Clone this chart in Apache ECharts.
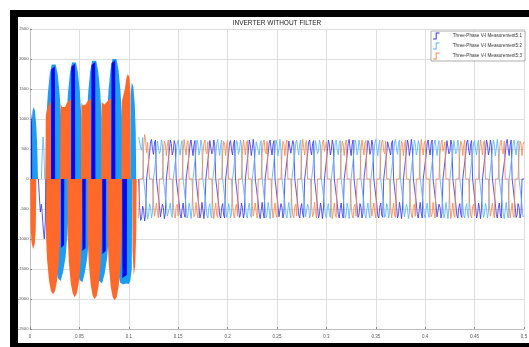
<!DOCTYPE html>
<html>
<head>
<meta charset="utf-8">
<script src="https://cdn.jsdelivr.net/npm/echarts@6/dist/echarts.min.js"></script>
<style>
  body { margin: 0; background: #fff; }
  #frame { position: absolute; left: 10px; top: 10px; width: 519px; height: 337px; background: #000; }
  #chart { position: absolute; left: 18px; top: 17px; width: 511px; height: 326px; background: #fff; }
</style>
</head>
<body>
<div id="frame"></div>
<div id="chart"></div>
<script>
// legend names
const names = ['Three-Phase V-I Measurement5:1', 'Three-Phase V-I Measurement5:2', 'Three-Phase V-I Measurement5:3'];

// start-up transient, read as envelopes [time s, volts]
const lightUpper = [
  [0.0012, 0], [0.0016, 900], [0.0026, 1140], [0.0038, 1200], [0.005, 1130], [0.0062, 920], [0.0072, 600], [0.0081, 0],
  [0.016, 0], [0.0165, 1010], [0.018, 1410], [0.02, 1750], [0.022, 1910], [0.024, 1940], [0.026, 1910], [0.028, 1750], [0.030, 1410], [0.0315, 1010], [0.032, 0],
  [0.0365, 0], [0.037, 1030], [0.0385, 1440], [0.0405, 1770], [0.0425, 1940], [0.0445, 1970], [0.0465, 1940], [0.0485, 1770], [0.0505, 1440], [0.052, 1030], [0.0525, 0],
  [0.057, 0], [0.0575, 1040], [0.059, 1460], [0.061, 1800], [0.063, 1970], [0.065, 2000], [0.067, 1970], [0.069, 1800], [0.071, 1460], [0.0725, 1040], [0.073, 0],
  [0.0775, 0], [0.078, 1060], [0.0795, 1480], [0.0815, 1830], [0.0835, 2000], [0.0855, 2030], [0.0875, 2000], [0.0895, 1830], [0.0915, 1480], [0.093, 1060], [0.0935, 0],
  [0.1015, 0], [0.1018, 1400], [0.103, 1600], [0.1045, 1550], [0.106, 1250], [0.107, 800], [0.1075, 0]
];
const orangeUpper = [
  [0.0155, 0], [0.016, 1050], [0.0175, 1180], [0.0195, 1260], [0.0211, 1300], [0.0213, 0],
  [0.0305, 0], [0.031, 1250], [0.0325, 1200], [0.034, 1180], [0.0355, 1200], [0.037, 1260], [0.039, 1300], [0.0414, 1320], [0.0416, 0],
  [0.0515, 0], [0.052, 1270], [0.0535, 1230], [0.055, 1220], [0.0565, 1240], [0.058, 1290], [0.060, 1320], [0.0618, 1340], [0.062, 0],
  [0.072, 0], [0.0725, 1280], [0.074, 1250], [0.0755, 1240], [0.077, 1260], [0.079, 1310], [0.081, 1330], [0.0821, 1350], [0.0823, 0],
  [0.0925, 0], [0.093, 1300], [0.0945, 1320], [0.096, 1500], [0.0975, 1680], [0.099, 1750], [0.1005, 1700], [0.1015, 1500], [0.1018, 0]
];
const darkUpper = [
  [0.0011, 0], [0.0012, 950], [0.002, 1100], [0.0022, 0],
  [0.0213, 0], [0.0215, 1830], [0.0252, 1880], [0.0254, 0],
  [0.0416, 0], [0.0418, 1870], [0.0455, 1920], [0.0457, 0],
  [0.062, 0], [0.0622, 1900], [0.066, 1950], [0.0662, 0],
  [0.0823, 0], [0.0825, 1930], [0.0862, 1980], [0.0864, 0]
];
const lightLower = [
  [0.025, 0], [0.0255, -1300], [0.028, -1650], [0.031, -1700], [0.0335, -1550], [0.036, -1300], [0.0375, -1000], [0.0385, -700], [0.039, 0],
  [0.0465, 0], [0.047, -1320], [0.050, -1680], [0.053, -1720], [0.0555, -1560], [0.058, -1300], [0.0595, -1000], [0.0605, 0],
  [0.067, 0], [0.0675, -1340], [0.070, -1700], [0.073, -1740], [0.0755, -1580], [0.078, -1320], [0.0795, -1000], [0.0805, 0],
  [0.0875, 0], [0.088, -1400], [0.091, -1720], [0.094, -1760], [0.097, -1740], [0.100, -1750], [0.1015, -1700], [0.103, -1500], [0.1035, 0]
];
const orangeLower = [
  [0.0003, 0], [0.0006, -800], [0.0015, -1050], [0.0032, -1170], [0.0048, -1080], [0.0058, -850], [0.0064, 0],
  [0.0158, 0], [0.0161, -900], [0.0173, -1350], [0.0193, -1700], [0.0213, -1870], [0.0233, -1920], [0.0253, -1870], [0.0273, -1700], [0.0293, -1350], [0.0305, -900], [0.0308, 0],
  [0.0378, 0], [0.0381, -920], [0.0393, -1380], [0.0413, -1740], [0.0433, -1910], [0.0453, -1970], [0.0473, -1910], [0.0493, -1740], [0.0513, -1380], [0.0525, -920], [0.0528, 0],
  [0.058, 0], [0.0583, -940], [0.0595, -1400], [0.0615, -1770], [0.0635, -1950], [0.0655, -2000], [0.0675, -1950], [0.0695, -1770], [0.0715, -1400], [0.0727, -940], [0.073, 0],
  [0.0782, 0], [0.0785, -950], [0.0797, -1420], [0.0817, -1790], [0.0837, -1970], [0.0857, -2020], [0.0877, -1970], [0.0897, -1790], [0.0917, -1420], [0.0929, -950], [0.0932, 0],
  [0.1035, 0], [0.1038, -1200], [0.105, -1600], [0.1065, -1450], [0.1075, -900], [0.108, 0]
];
const darkLower = [
  [0.0313, 0], [0.0315, -1150], [0.0345, -1100], [0.0347, 0],
  [0.0529, 0], [0.0531, -1200], [0.0562, -1150], [0.0564, 0],
  [0.0731, 0], [0.0733, -1250], [0.0767, -1200], [0.0769, 0],
  [0.0933, 0], [0.0935, -1650], [0.098, -1600], [0.0982, 0]
];
const earlyDark = [[0.0085, 0], [0.0095, -300], [0.0105, -550], [0.0115, -420], [0.0125, -600], [0.0135, -850], [0.0145, -1000], [0.0155, -700], [0.016, 0]];
const earlyLight = [[0.0115, 0], [0.0125, 480], [0.0133, 700], [0.0141, 460], [0.0149, 0]];

// steady state, one sample per ms from 110 ms to 500 ms
const steadyStartMs = 110;
const phase1 = [
  0, -480, -690, -650, -450, -520, -700, -600, 0, 0,
  0, 430, 620, 660, 490, 410, 600, 650, 0, 0, 0, -440, -630, -610, -420, -480, -660, -570, 0, 0,
  0, 460, 650, 590, 400, 470, 640, 570, 0, 0, 0, -410, -590, -650, -500, -400, -580, -640, 0, 0,
  0, 400, 580, 650, 510, 390, 570, 640, 0, 0, 0, -460, -650, -580, -390, -510, -660, -490, 0, 0,
  0, 450, 640, 610, 420, 460, 650, 560, 0, 0, 0, -420, -610, -650, -470, -410, -600, -650, 0, 0,
  0, 420, 600, 640, 480, 400, 590, 650, 0, 0, 0, -450, -640, -590, -400, -480, -650, -560, 0, 0,
  0, 470, 650, 570, 390, 510, 660, 490, 0, 0, 0, -400, -580, -660, -520, -390, -560, -650, 0, 0,
  0, 410, 590, 650, 500, 400, 580, 640, 0, 0, 0, -440, -630, -600, -410, -470, -650, -570, 0, 0,
  0, 440, 630, 620, 430, 450, 640, 580, 0, 0, 0, -420, -600, -650, -480, -410, -590, -640, 0, 0,
  0, 420, 610, 650, 480, 400, 590, 640, 0, 0, 0, -460, -650, -580, -400, -500, -660, -500, 0, 0,
  0, 460, 650, 580, 400, 480, 650, 560, 0, 0, 0, -410, -590, -650, -490, -400, -580, -650, 0, 0,
  0, 400, 590, 660, 510, 390, 570, 650, 0, 0, 0, -450, -640, -600, -410, -470, -650, -570, 0, 0,
  0, 450, 640, 600, 410, 470, 650, 560, 0, 0, 0, -420, -610, -650, -470, -400, -600, -640, 0, 0,
  0, 430, 620, 650, 470, 400, 600, 640, 0, 0, 0, -460, -650, -580, -390, -500, -660, -500, 0, 0,
  0, 470, 650, 570, 390, 500, 660, 500, 0, 0, 0, -400, -590, -650, -510, -390, -570, -650, 0, 0,
  0, 410, 600, 650, 490, 400, 590, 650, 0, 0, 0, -440, -630, -610, -420, -470, -650, -570, 0, 0,
  0, 450, 640, 610, 420, 460, 650, 570, 0, 0, 0, -420, -600, -650, -480, -410, -590, -640, 0, 0,
  0, 420, 610, 650, 480, 400, 590, 640, 0, 0, 0, -460, -650, -590, -400, -490, -660, -510, 0, 0,
  0, 460, 650, 580, 400, 480, 650, 560, 0, 0, 0, -410, -590, -650, -490, -400, -580, -650, 0, 0,
  0, 400, 590, 660, 500, 390, 570, 650, 0, 0, 0, -450, -640, -600, -410, -470, -650, -570, 0, 0,
  0
];
const phase2 = [
  700, 730, 520, 480, 690, 0, 0, 0, -460, -670,
  -600, -410, -480, -650, -560, 0, 0, 0, 440, 630, 610, 420, 470, 650, 570, 0, 0, 0, -430, -620,
  -650, -490, -400, -590, -640, 0, 0, 0, 410, 600, 650, 490, 400, 580, 640, 0, 0, 0, -460, -650,
  -580, -400, -500, -660, -500, 0, 0, 0, 460, 650, 580, 400, 480, 650, 560, 0, 0, 0, -410, -600,
  -650, -480, -410, -600, -650, 0, 0, 0, 400, 590, 660, 510, 390, 570, 650, 0, 0, 0, -450, -640,
  -590, -410, -480, -650, -570, 0, 0, 0, 450, 640, 600, 410, 470, 650, 560, 0, 0, 0, -420, -610,
  -650, -470, -400, -600, -640, 0, 0, 0, 430, 620, 650, 470, 400, 600, 640, 0, 0, 0, -460, -650,
  -580, -390, -500, -660, -500, 0, 0, 0, 470, 650, 570, 390, 500, 660, 500, 0, 0, 0, -400, -590,
  -650, -510, -390, -570, -650, 0, 0, 0, 410, 600, 650, 490, 400, 590, 650, 0, 0, 0, -440, -630,
  -610, -420, -470, -650, -570, 0, 0, 0, 450, 640, 610, 420, 460, 650, 570, 0, 0, 0, -420, -600,
  -650, -480, -410, -590, -640, 0, 0, 0, 420, 610, 650, 480, 400, 590, 640, 0, 0, 0, -460, -650,
  -590, -400, -490, -660, -510, 0, 0, 0, 460, 650, 580, 400, 480, 650, 560, 0, 0, 0, -410, -590,
  -650, -490, -400, -580, -650, 0, 0, 0, 400, 590, 660, 500, 390, 570, 650, 0, 0, 0, -450, -640,
  -600, -410, -470, -650, -570, 0, 0, 0, 430, 620, 660, 490, 410, 600, 650, 0, 0, 0, -440, -630,
  -610, -420, -480, -660, -570, 0, 0, 0, 460, 650, 590, 400, 470, 640, 570, 0, 0, 0, -410, -590,
  -650, -500, -400, -580, -640, 0, 0, 0, 400, 580, 650, 510, 390, 570, 640, 0, 0, 0, -460, -650,
  -580, -390, -510, -660, -490, 0, 0, 0, 450, 640, 610, 420, 460, 650, 560, 0, 0, 0, -420, -610,
  -650, -470, -410, -600, -650, 0, 0, 0, 420, 600, 640, 480, 400, 590, 650, 0, 0, 0, -450, -640,
  -590, -400, -480, -650, -560, 0, 0, 0, 470, 650, 570, 390, 510, 660, 490, 0, 0, 0, -400, -580,
  -660, -520, -390, -560, -650, 0, 0, 0, 410, 590, 650, 500, 400, 580, 640, 0, 0, 0, -440, -630,
  -610
];
const phase3 = [
  -650, 0, 0, 0, 0, 520, 740, 650, 440, 610,
  600, 0, 0, 0, 0, -430, -620, -590, -400, -560, -650, 0, 0, 0, 0, 440, 630, 580, 390, 560,
  650, 0, 0, 0, 0, -410, -600, -650, -460, -420, -620, 0, 0, 0, 0, 470, 660, 520, 400, 600,
  640, 0, 0, 0, 0, -440, -630, -580, -390, -560, -650, 0, 0, 0, 0, 410, 600, 650, 460, 420,
  620, 0, 0, 0, 0, -470, -660, -520, -400, -600, -640, 0, 0, 0, 0, 440, 630, 580, 390, 560,
  650, 0, 0, 0, 0, -410, -600, -650, -460, -420, -620, 0, 0, 0, 0, 470, 650, 530, 400, 600,
  640, 0, 0, 0, 0, -440, -620, -590, -400, -560, -650, 0, 0, 0, 0, 420, 610, 650, 460, 420,
  630, 0, 0, 0, 0, -460, -650, -520, -400, -600, -640, 0, 0, 0, 0, 440, 630, 580, 390, 570,
  650, 0, 0, 0, 0, -420, -600, -650, -460, -420, -620, 0, 0, 0, 0, 460, 660, 520, 400, 600,
  640, 0, 0, 0, 0, -440, -630, -580, -390, -560, -650, 0, 0, 0, 0, 410, 600, 650, 460, 430,
  620, 0, 0, 0, 0, -470, -660, -530, -400, -600, -640, 0, 0, 0, 0, 440, 630, 580, 390, 560,
  650, 0, 0, 0, 0, -410, -600, -650, -460, -420, -620, 0, 0, 0, 0, 470, 650, 530, 400, 600,
  640, 0, 0, 0, 0, -440, -620, -590, -400, -560, -650, 0, 0, 0, 0, 420, 610, 650, 460, 420,
  630, 0, 0, 0, 0, -460, -650, -520, -400, -600, -640, 0, 0, 0, 0, 440, 630, 580, 390, 570,
  650, 0, 0, 0, 0, -420, -600, -650, -460, -420, -620, 0, 0, 0, 0, 460, 660, 520, 400, 600,
  640, 0, 0, 0, 0, -440, -630, -580, -390, -560, -650, 0, 0, 0, 0, 410, 600, 650, 460, 430,
  620, 0, 0, 0, 0, -470, -660, -530, -400, -600, -640, 0, 0, 0, 0, 440, 630, 580, 390, 560,
  650, 0, 0, 0, 0, -410, -600, -650, -460, -420, -620, 0, 0, 0, 0, 470, 650, 530, 400, 600,
  640, 0, 0, 0, 0, -440, -620, -590, -400, -560, -650, 0, 0, 0, 0, 420, 610, 650, 460, 420,
  630, 0, 0, 0, 0, -460, -650, -520, -400, -600, -640, 0, 0, 0, 0, 440, 630, 580, 390, 570,
  620
];

const darkBlue = '#0808f0';
const lightBlue = '#1e9bf2';
const orange = '#ff6a2a';

const chart = echarts.init(document.getElementById('chart'), null, { renderer: 'canvas' });

function toPairs(values) {
    return values.map((v, i) => [(steadyStartMs + i) / 1000, v]);
}

// filled envelope of the fast switching
function envelope(name, data, color) {
    return {
        name: name,
        type: 'line',
        data: data,
        symbol: 'none',
        silent: true,
        lineStyle: { width: 0 },
        areaStyle: { color: color, opacity: 1 },
        itemStyle: { color: color },
    };
}

function trace(name, data, color) {
    return {
        name: name,
        type: 'line',
        data: data,
        symbol: 'none',
        silent: true,
        lineStyle: { width: 1, color: color, opacity: 0.85 },
        itemStyle: { color: color },
    };
}

const stepIcon = 'path://M0,10 L4.5,10 L4.5,0 L11,0 L11,1.6 L6.1,1.6 L6.1,11.6 L0,11.6 Z';
const axisFont = 'Liberation Sans, Arial, sans-serif';

const option = {
    animation: false,
    backgroundColor: '#fff',
    graphic: [{
        type: 'text',
        x: 259,
        y: 6,
        style: {
            text: 'INVERTER WITHOUT FILTER',
            fill: '#222',
            font: '6.5px Liberation Sans, Arial, sans-serif',
            textAlign: 'center',
            textVerticalAlign: 'middle',
        },
    }],
    legend: {
        orient: 'vertical',
        right: 4,
        top: 14,
        backgroundColor: '#fff',
        borderColor: '#9a9a9a',
        borderWidth: 0.8,
        borderRadius: 0,
        padding: [1.5, 3, 1.5, 2],
        itemGap: 3,
        itemWidth: 7,
        itemHeight: 7,
        textStyle: { fontSize: 4.6, color: '#333', fontFamily: axisFont, padding: [0, 0, 0, 8] },
        data: [
            { name: names[0], icon: stepIcon, itemStyle: { color: '#3434ee' } },
            { name: names[1], icon: stepIcon, itemStyle: { color: '#58b2f5' } },
            { name: names[2], icon: stepIcon, itemStyle: { color: '#f6884c' } },
        ],
    },
    grid: { left: 12, right: 5, top: 12, bottom: 14, containLabel: false, outerBoundsMode: 'none' },
    xAxis: {
        type: 'value',
        min: 0,
        max: 0.5,
        interval: 0.05,
        axisLine: { show: true, onZero: false, lineStyle: { color: '#bdbdbd', width: 1 } },
        axisTick: { show: true, inside: true, length: 2, lineStyle: { color: '#888' } },
        axisLabel: { fontSize: 4.5, color: '#555', fontFamily: axisFont, margin: 5, formatter: (v) => String(v) },
        splitLine: { show: true, lineStyle: { color: '#dedede', width: 1 } },
    },
    yAxis: {
        type: 'value',
        min: -2500,
        max: 2500,
        interval: 500,
        axisLine: { show: true, lineStyle: { color: '#bdbdbd', width: 1 } },
        axisTick: { show: true, inside: true, length: 2, lineStyle: { color: '#888' } },
        axisLabel: { fontSize: 4.2, color: '#555', fontFamily: axisFont, margin: 1.5, formatter: (v) => String(v) },
        splitLine: { show: true, lineStyle: { color: '#dedede', width: 1 } },
    },
    series: [
        envelope(names[1], lightUpper, lightBlue),
        envelope(names[2], orangeUpper, orange),
        envelope(names[0], darkUpper, darkBlue),
        envelope(names[1], lightLower, lightBlue),
        envelope(names[2], orangeLower, orange),
        envelope(names[0], darkLower, darkBlue),
        trace(names[0], earlyDark, '#3a3aee'),
        trace(names[1], earlyLight, '#5cb4f4'),
        trace(names[0], toPairs(phase1), '#3a3aee'),
        trace(names[1], toPairs(phase2), '#5cb4f4'),
        trace(names[2], toPairs(phase3), '#f68a55'),
    ],
};

chart.setOption(option);
</script>
</body>
</html>
